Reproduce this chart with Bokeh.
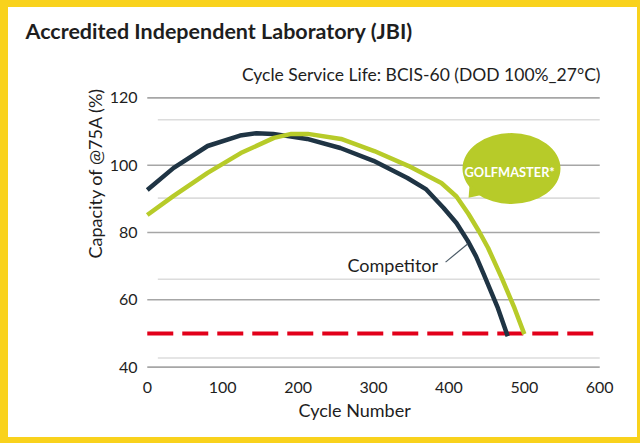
import math
from bokeh.plotting import figure
from bokeh.models import Label, Range1d, Title
from bokeh.embed import file_html
from bokeh.resources import INLINE

# ---- data ----
comp_cycles = [0, 35, 80, 123, 145, 167, 212, 256, 300, 345, 370, 393, 410, 425, 436, 446, 465, 478]
comp_capacity = [92.6, 99.2, 105.7, 108.8, 109.5, 109.3, 107.8, 105.1, 101.3, 96.2, 92.8, 87.3, 82.8, 77.5, 72.9, 67.7, 57.5, 49.2]

gm_cycles = [0, 35, 80, 124, 168, 191, 213, 257, 301, 346, 390, 410, 426, 440, 452, 470, 487, 500]
gm_capacity = [85.2, 90.9, 97.7, 103.6, 108.1, 109.3, 109.3, 107.8, 104.2, 99.8, 94.7, 90.7, 85.5, 80.3, 75.4, 66.5, 57.5, 49.8]

x_ticks = [0, 100, 200, 300, 400, 500, 600]
y_ticks = [40, 60, 80, 100, 120]
light_grid = [113.5, 90.2, 66.1, 42.7]
limit_capacity = 50

title_text = "Accredited Independent Laboratory (JBI)"
subtitle_text = "Cycle Service Life: BCIS-60 (DOD 100%_27°C)"
x_label_text = "Cycle Number"
y_label_text = "Capacity of @75A (%)"
comp_name = "Competitor"
gm_name = "GOLFMASTER*"

# ---- styles ----
FONT = "Lato"
TXT = "#1E1E1E"
NAVY = "#1F3444"
GREEN = "#B7CB29"
RED = "#E2001A"
YELLOW = "#F9D21C"

W, H = 629, 430
FL, FR, FT, FB = 135, 45, 87, 80   # borders around the plot frame

p = figure(width=W, height=H, x_range=Range1d(-5, 605), y_range=Range1d(39, 121),
           output_backend="svg", toolbar_location=None, title=None,
           min_border_left=FL, min_border_right=FR, min_border_top=FT, min_border_bottom=FB)
p.styles = {"box-sizing": "content-box", "border-style": "solid", "border-color": YELLOW,
            "border-width": "7px 3px 6px 8px"}
p.outline_line_color = None
p.background_fill_color = "white"
p.border_fill_color = "white"
p.xgrid.visible = False
p.ygrid.visible = False

for ax in (p.xaxis[0], p.yaxis[0]):
    ax.axis_line_color = None
    ax.major_tick_line_color = None
    ax.minor_tick_line_color = None
    ax.major_label_text_font = FONT
    ax.major_label_text_font_size = "16px"
    ax.major_label_text_color = TXT
p.xaxis.ticker = x_ticks
p.yaxis.ticker = y_ticks
p.yaxis.major_label_standoff = 0
p.xaxis.major_label_standoff = 5

# grid lines (dark at ticks, light offset lines)
p.segment(x0=[x_ticks[0]] * len(y_ticks), y0=y_ticks, x1=[x_ticks[-1]] * len(y_ticks), y1=y_ticks,
          line_color="#A6A6A6", line_width=1.6)
p.segment(x0=[14] * len(light_grid), y0=light_grid, x1=[x_ticks[-1]] * len(light_grid), y1=light_grid,
          line_color="#DCDCDC", line_width=1.6)

# limit line
p.segment(x0=[x_ticks[0]], y0=[limit_capacity], x1=[x_ticks[-1]], y1=[limit_capacity],
          line_color=RED, line_width=4, line_dash="26 9")

# series
p.line(comp_cycles, comp_capacity, line_color=NAVY, line_width=4.5, line_join="round")
p.line(gm_cycles, gm_capacity, line_color=GREEN, line_width=4.5, line_join="round")

# speech bubble
bubble_x, bubble_y = 483, 99.0
p.ellipse(x=[bubble_x], y=[bubble_y], width=98, height=71, width_units="screen", height_units="screen",
          fill_color=GREEN, line_color=None)
p.patch([427.5, 444.7, 426.1], [94.4, 91.2, 90.3], fill_color=GREEN, line_color=None)
p.add_layout(Label(x=480.6, y=98.0, text=gm_name, text_align="center", text_baseline="middle",
                   text_font=FONT, text_font_style="bold", text_font_size="12.8px", text_color="white"))

# competitor label + leader
p.add_layout(Label(x=265.5, y=70.3, text=comp_name, text_align="left", text_baseline="middle",
                   text_font=FONT, text_font_size="18px", text_color=TXT))
p.segment(x0=[395.6], y0=[71.2], x1=[424.8], y1=[76.6], line_color="#4A5A66", line_width=1.2)

# titles (above: first added sits nearest the frame)
p.add_layout(Title(text=subtitle_text, align="right", offset=3, text_font=FONT,
                   text_font_size="17.5px", text_font_style="normal", text_color=TXT,
                   standoff=20), "above")
p.add_layout(Title(text=title_text, align="left", offset=-118, text_font=FONT,
                   text_font_size="21.5px", text_font_style="bold", text_color=TXT,
                   standoff=16), "above")

# axis labels as titles placed outside the axes
p.add_layout(Title(text=x_label_text, align="left", offset=155, text_font=FONT,
                   text_font_size="18px", text_font_style="normal", text_color=TXT,
                   standoff=2), "below")
p.add_layout(Title(text=y_label_text, align="right", offset=-7, text_font=FONT,
                   text_font_size="18px", text_font_style="normal", text_color=TXT,
                   standoff=2), "left")

html = file_html(p, INLINE, title="Cycle Service Life")
open("out.html", "w").write(html)
